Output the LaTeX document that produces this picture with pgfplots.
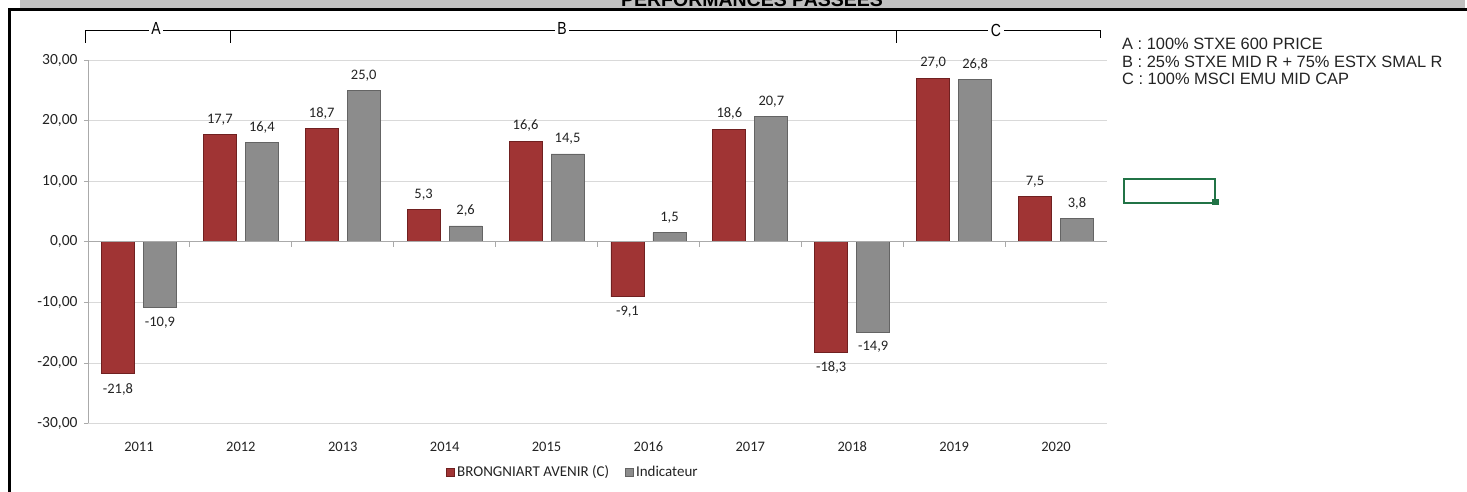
\documentclass[border=0pt]{standalone}
\usepackage{pgfplots}
\pgfplotsset{compat=1.18}
\usepackage{fontspec}
\setmainfont{Carlito}
\newfontfamily\arial{Liberation Sans}
\newfontfamily\arialnarrow[FakeStretch=0.8]{Liberation Sans}

\definecolor{barred}{RGB}{160,52,52}
\definecolor{barreddark}{RGB}{112,32,32}
\definecolor{bargray}{RGB}{140,140,140}
\definecolor{bargraydark}{RGB}{100,100,100}
\definecolor{gridgray}{RGB}{217,217,217}
\definecolor{axisgray}{RGB}{170,170,170}
\definecolor{titlegray}{RGB}{192,192,192}
\definecolor{labeltext}{RGB}{35,35,35}
\definecolor{excelgreen}{RGB}{33,115,70}

\pgfplotsset{sq legend/.style={legend image code/.code={\draw[##1] (0pt,-4pt) rectangle (8pt,4pt);}}}

\begin{document}
\begin{tikzpicture}
\useasboundingbox (0pt,0pt) rectangle (1467pt,492pt);

% title bar and frame, cut by the page edge
\begin{scope}
  \clip (0pt,0pt) rectangle (1467pt,492pt);
  \fill[titlegray] (20pt,484pt) rectangle (1465pt,492pt);
  \node[anchor=base, inner sep=0pt, font=\arial\bfseries\fontsize{19.5}{20}\selectfont]
    at (752pt,485.5pt) {PERFORMANCES PASSEES};
  \draw[line width=3pt] (9.5pt,-3pt) -- (9.5pt,482.5pt) -- (1470pt,482.5pt);
\end{scope}

% index periods over the bars
\draw[black, line width=0.8pt] (85pt,449pt) -- (85pt,461.5pt) -- (1100pt,461.5pt) -- (1100pt,454pt);
\draw[black, line width=0.8pt] (230pt,461.5pt) -- (230pt,449pt);
\draw[black, line width=0.8pt] (896pt,461.5pt) -- (896pt,449pt);
\begin{scope}[every node/.style={fill=white, inner xsep=2.5pt, inner ysep=1pt, font=\arialnarrow\fontsize{17.5}{18}\selectfont}]
  \node at (156pt,464pt) {A};
  \node at (562pt,463.5pt) {B};
  \node at (996pt,462pt) {C};
\end{scope}

\begin{scope}[every node/.style={anchor=base west, inner sep=0pt, text=labeltext, font=\arial\fontsize{16.4}{16}\selectfont}]
  \node at (1122pt,442pt) {A : 100\% STXE 600 PRICE};
  \node at (1122pt,424.5pt) {B : 25\% STXE MID R + 75\% ESTX SMAL R};
  \node at (1122pt,407pt) {C : 100\% MSCI EMU MID CAP};
\end{scope}

% selected cell
\draw[excelgreen, line width=2pt] (1124pt,289pt) rectangle (1215pt,313pt);
\fill[excelgreen] (1212pt,286.5pt) rectangle (1218.5pt,293pt);

\begin{axis}[
    at={(88pt,68.5pt)}, anchor=south west,
    scale only axis,
    width=1019pt, height=363.5pt,
    xmin=-0.5, xmax=9.5,
    ymin=-30, ymax=30,
    ybar=9pt, bar width=33pt,
    xtick={0,1,2,3,4,5,6,7,8,9},
    xticklabels={2011,2012,2013,2014,2015,2016,2017,2018,2019,2020},
    ytick={-30,-20,-10,0,10,20,30},
    ymajorgrids,
    grid style={gridgray, line width=0.8pt},
    axis line style={draw=none},
    tick align=outside,
    ytick pos=left,
    major tick length=4pt,
    xtick style={draw=none},
    ytick style={axisgray, line width=0.8pt},
    font=\fontsize{14.5}{17}\selectfont,
    tick label style={text=labeltext},
    /pgf/number format/assume math mode=true,
    yticklabel style={/pgf/number format/.cd, fixed, fixed zerofill, precision=2, use comma, /tikz/.cd, font=\fontsize{15.5}{17}\selectfont, xshift=-3pt},
    xticklabel style={anchor=center, yshift=-19pt},
    nodes near coords={\pgfmathprintnumber[fixed, fixed zerofill, precision=1, use comma]{\pgfplotspointmeta}},
    every node near coord/.append style={text=labeltext, font=\fontsize{14.5}{17}\selectfont, inner ysep=9pt},
    legend style={at={(0.476,-0.1334)}, anchor=center, draw=none, fill=none,
        legend columns=2, font=\fontsize{15}{17}\selectfont, text=labeltext,
        /tikz/every even column/.append style={column sep=14pt}},
    ]

    \addplot[fill=barred, draw=barreddark, line width=0.8pt, sq legend]
        coordinates {
        (0,-21.8) (1,17.7) (2,18.7) (3,5.3) (4,16.6)
        (5,-9.1) (6,18.6) (7,-18.3) (8,27.0) (9,7.5)
    };
    \addplot[fill=bargray, draw=bargraydark, line width=0.8pt, sq legend]
        coordinates {
        (0,-10.9) (1,16.4) (2,25.0) (3,2.6) (4,14.5)
        (5,1.5) (6,20.7) (7,-14.9) (8,26.8) (9,3.8)
    };
    \legend{BRONGNIART AVENIR (C), Indicateur}

    % value axis and category axis at zero
    \draw[axisgray, line width=0.8pt] (rel axis cs:0,0) -- (rel axis cs:0,1);
    \draw[axisgray, line width=0.8pt] (axis cs:-0.5,0) -- (axis cs:9.5,0);
    \pgfplotsinvokeforeach{0.5,1.5,2.5,3.5,4.5,5.5,6.5,7.5,8.5,9.5}{
        \draw[axisgray, line width=0.8pt] (axis cs:#1,0) -- ++(0pt,-5pt);
    }
\end{axis}
\end{tikzpicture}
\end{document}
